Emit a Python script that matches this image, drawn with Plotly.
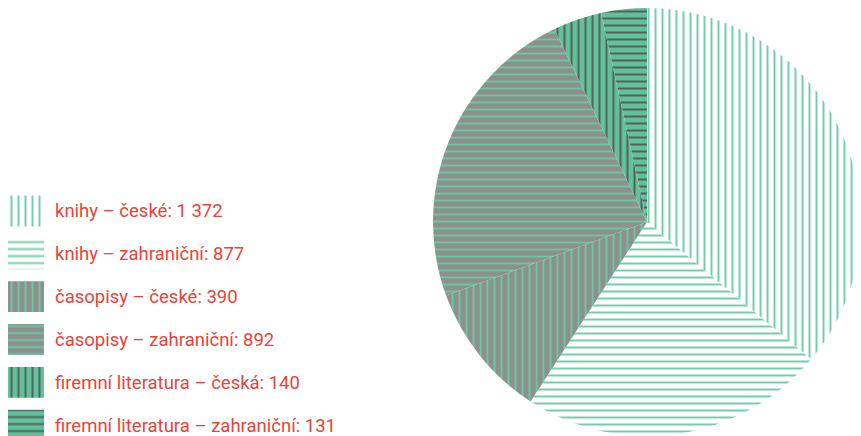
import plotly.graph_objects as go

labels = ["knihy – české", "knihy – zahraniční", "časopisy – české",
          "časopisy – zahraniční", "firemní literatura – česká",
          "firemní literatura – zahraniční"]
values = [1372, 877, 390, 892, 140, 131]
value_texts = ["1 372", "877", "390", "892", "140", "131"]

legend_texts = [f"{l}: {v}" for l, v in zip(labels, value_texts)]

shapes = ["|", "-", "|", "-", "|", "-"]
bgcolors = ["#ffffff", "#ffffff", "#8f8f8f", "#8f8f8f", "#5ec29b", "#5ec29b"]
fgcolors = ["#74cdaa", "#74cdaa", "#66caa3", "#66caa3", "#5c5c5c", "#5c5c5c"]
red = "#e8433b"

W, H = 861, 436

fig = go.Figure()

fig.add_trace(go.Pie(
    labels=labels,
    values=values,
    sort=False,
    direction="clockwise",
    rotation=0,
    textinfo="none",
    textposition="none",
    hoverinfo="label+value",
    showlegend=False,
    marker=dict(
        colors=bgcolors,
        line=dict(width=0),
        pattern=dict(shape=shapes, bgcolor=bgcolors, fgcolor=fgcolors,
                     fgopacity=1, size=7, solidity=0.28, fillmode="replace"),
    ),
    domain=dict(x=[425 / W, 853 / W], y=[1 - 428 / H, 1.0]),
))

# legend swatches: one small pattern-filled bar per category
for txt, shp, bg, fg in zip(legend_texts, shapes, bgcolors, fgcolors):
    fig.add_trace(go.Bar(
        x=[1],
        y=[txt],
        orientation="h",
        width=0.72,
        marker=dict(
            color=bg,
            line=dict(width=0),
            pattern=dict(shape=shp, bgcolor=bg, fgcolor=fg,
                         fgopacity=1, size=7, solidity=0.28),
        ),
        xaxis="x", yaxis="y",
        showlegend=False,
        hoverinfo="skip",
    ))

fig.update_layout(
    width=W, height=H,
    margin=dict(l=0, r=0, t=0, b=0, autoexpand=False),
    paper_bgcolor="white",
    plot_bgcolor="rgba(0,0,0,0)",
    font=dict(family="Roboto", size=18.5, color=red),
    barmode="overlay",
    xaxis=dict(domain=[0, 36 / W], range=[0, 1], visible=False,
               fixedrange=True, automargin=False),
    yaxis=dict(domain=[0, 1 - 181.6 / H], type="category",
               categoryorder="array", categoryarray=legend_texts,
               range=[5.44, -0.5], autorange=False, automargin=False,
               side="right", showgrid=False, zeroline=False, showline=False,
               ticks="", ticklabelstandoff=10,
               tickfont=dict(family="Roboto", size=18.5, color=red),
               fixedrange=True),
)

fig.write_html("out.html")
